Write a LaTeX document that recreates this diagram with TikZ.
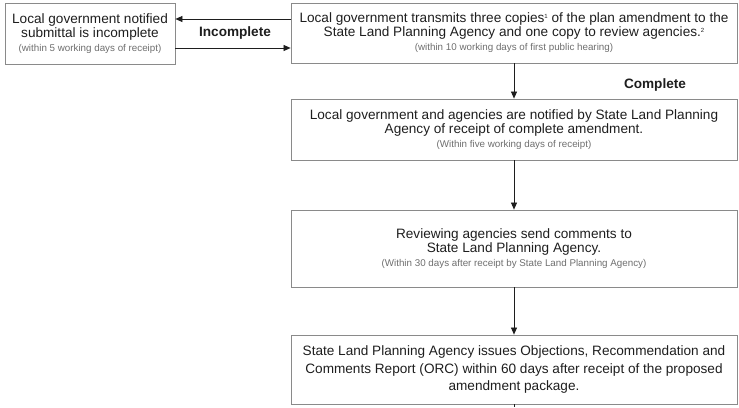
\documentclass[tikz,border=0pt]{standalone}
\usepackage{fontspec}
\setmainfont{Liberation Sans}
\usetikzlibrary{arrows.meta}
\definecolor{boxgray}{HTML}{8A8A8A}
\definecolor{notegray}{HTML}{6E6E6E}
\definecolor{inkgray}{HTML}{1E1E1E}
\newcommand{\note}[1]{{\fontsize{9.8}{11}\selectfont\color{notegray}#1}}
\newcommand{\fn}[1]{\raisebox{4pt}{\fontsize{6}{6}\selectfont #1}}

\begin{document}
\begin{tikzpicture}[x=1pt,y=-1pt,
	box/.style={draw=boxgray, line width=0.8pt, align=center, inner sep=0pt, text=inkgray, font=\fontsize{13.6}{14}\selectfont},
	arr/.style={-{Triangle[length=7pt,width=6pt]}, inkgray, line width=0.7pt},
	tag/.style={text=inkgray, font=\bfseries\fontsize{13.6}{14}\selectfont}]
		\useasboundingbox (0,0) rectangle (739,407);
		
		% Boxes
		\node[box, minimum width=170pt, minimum height=61pt] (incomplete) at (90,33.5) {Local government notified\\submittal is incomplete\\\note{(within 5 working days of receipt)}};
		\node[box, minimum width=446pt, minimum height=60pt] (transmit) at (514,33) {Local government transmits three copies\fn{1} of the plan amendment to the\\State Land Planning Agency and one copy to review agencies.\fn{2}\\\note{(within 10 working days of first public hearing)}};
		\node[box, minimum width=446pt, minimum height=61pt] (notified) at (514,129.5) {Local government and agencies are notified by State Land Planning\\Agency of receipt of complete amendment.\\\note{(Within five working days of receipt)}};
		\node[box, minimum width=446pt, minimum height=77pt] (comments) at (514,248.5) {Reviewing agencies send comments to\\State Land Planning Agency.\\\note{(Within 30 days after receipt by State Land Planning Agency)}};
		\node[box, minimum width=446pt, minimum height=69pt, font=\fontsize{13.6}{17.5}\selectfont] (orc) at (514,369.5) {State Land Planning Agency issues Objections, Recommendation and\\Comments Report (ORC) within 60 days after receipt of the proposed\\amendment package.};
		\coordinate (next) at (514,407);
		
		% Arrows
		\draw[arr] ([yshift=14pt]transmit.west) -- ([yshift=14.5pt]incomplete.east);
		\draw[arr] ([yshift=-14.5pt]incomplete.east) -- ([yshift=-15pt]transmit.west);
		\draw[arr] (transmit) -- (notified);
		\draw[arr] (notified) -- (comments);
		\draw[arr] (comments) -- (orc);
		\draw[inkgray, line width=0.7pt] (orc) -- (next);
		
		% Labels
		\node[tag] (incl) at (235,33) {Incomplete};
		\node[tag] (compl) at (655,85) {Complete};
	\end{tikzpicture}
\end{document}
